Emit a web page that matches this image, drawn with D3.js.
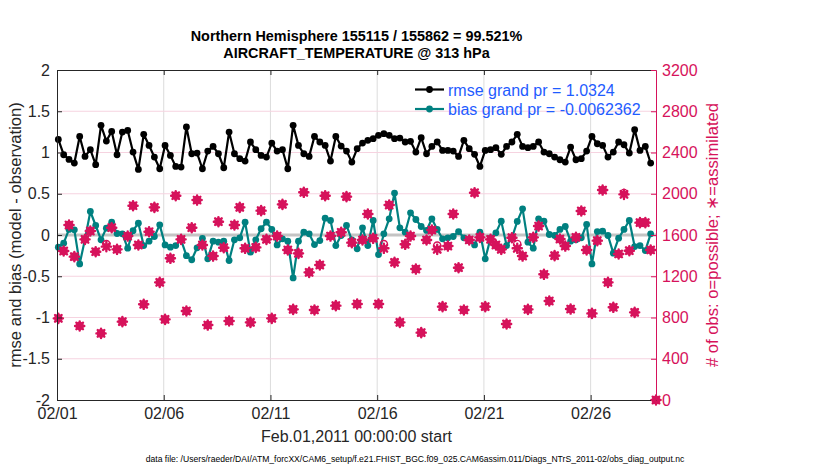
<!doctype html>
<html lang="en">
<head>
	<meta charset="utf-8">
	<title>obs_diag evolution</title>
	<style>
		body { margin: 0; background: #fff; }
		text { font-family: "Liberation Sans", Arial, Helvetica, sans-serif; }
	</style>
</head>
<body>
	<div id="output"></div>

	<script src="https://d3js.org/d3.v7.min.js"></script>

	<script>
		// 6-hourly bins, Feb 2011 (day offsets from 02/01 00:00)
		var rmse = [1.159, 0.973, 0.916, 0.872, 1.195, 0.953, 1.034, 0.852, 1.329, 1.139,
			1.256, 0.973, 1.248, 1.268, 1.005, 0.795, 1.220, 1.086, 0.945, 0.803,
			1.086, 0.965, 0.831, 0.823, 1.309, 0.985, 0.993, 0.803, 1.017, 1.074,
			0.985, 0.815, 1.248, 0.985, 0.925, 0.896, 1.127, 1.034, 0.965, 0.945,
			1.114, 1.017, 1.034, 0.803, 1.329, 1.086, 0.985, 0.953, 1.195, 1.127,
			1.086, 0.896, 1.195, 1.078, 1.017, 0.884, 1.046, 1.114, 1.147, 1.167,
			1.208, 1.228, 1.208, 1.167, 1.175, 1.127, 1.135, 1.005, 1.180, 0.985,
			1.074, 1.127, 1.025, 1.025, 1.017, 0.953, 1.147, 1.046, 0.978, 0.831,
			1.025, 1.034, 1.058, 0.978, 1.074, 1.127, 1.220, 1.074, 1.058, 1.074,
			1.127, 1.005, 0.985, 0.944, 0.912, 0.884, 1.066, 0.912, 0.925, 1.017,
			1.195, 1.106, 1.086, 0.944, 1.005, 1.127, 1.094, 0.993, 1.277, 1.025,
			1.074, 0.872, null];

		var bias = [-0.148, -0.099, 0.067, 0.063, -0.350, -0.050, 0.285, 0.115, -0.058, 0.083,
			0.155, 0.018, 0.014, -0.160, 0.052, 0.143, -0.128, -0.075, -0.018, 0.123,
			-0.120, -0.148, -0.128, -0.058, -0.250, -0.300, -0.155, -0.040, -0.289, -0.075,
			-0.087, -0.075, -0.309, -0.058, -0.034, 0.155, -0.208, -0.058, 0.076, 0.155,
			0.067, -0.120, -0.046, -0.075, -0.520, -0.075, 0.034, 0.014, -0.116, -0.067,
			0.204, 0.176, -0.128, -0.006, 0.115, -0.058, -0.168, 0.087, -0.128, 0.176,
			-0.237, 0.014, 0.196, 0.508, 0.087, 0.034, 0.269, 0.188, 0.103, 0.055,
			0.196, 0.067, -0.046, -0.034, -0.018, 0.042, -0.034, -0.067, -0.120, 0.034,
			-0.289, -0.038, 0.026, 0.168, -0.128, -0.034, 0.164, 0.317, -0.087, -0.160,
			0.196, 0.168, 0.006, -0.006, 0.067, 0.103, -0.075, -0.058, -0.034, 0.127,
			-0.350, 0.042, 0.046, -0.006, -0.220, -0.038, 0.067, 0.176, -0.140, -0.128,
			-0.189, 0.014, null];

		var nUsed = [792, 1445, 1697, 1390, 718, 1558, 1639, 1438, 646, 1487,
			1671, 1461, 760, 1590, 1884, 1503, 928, 1632, 1868, 1141,
			782, 1374, 1981, 1558, 863, 1671, 1939, 1503, 727, 1396,
			1729, 1477, 766, 1697, 1868, 1471, 753, 1480, 1836, 1558,
			792, 1590, 1897, 1455, 879, 1422, 2014, 1238, 873, 1309,
			1981, 1590, 915, 1626, 1972, 1526, 931, 1552, 1804, 1568,
			931, 1471, 1891, 1335, 753, 1510, 1590, 1270, 653, 1552,
			1648, 1461, 905, 1493, 1804, 1283, 873, 1552, 2010, 1577,
			905, 1558, 1503, 1461, 737, 1574, 1471, 1396, 879, 1577,
			1687, 1219, 960, 1400, 1561, 1493, 882, 1577, 1833, 1455,
			840, 1545, 2036, 1141, 899, 1416, 1994, 1448, 850, 1720,
			1720, 1455, 0];

		var nPoss = [792, 1445, 1697, 1390, 718, 1558, 1639, 1438, 646, 1512,
			1671, 1461, 760, 1590, 1884, 1503, 928, 1632, 1868, 1141,
			782, 1374, 1981, 1558, 863, 1671, 1939, 1503, 727, 1396,
			1729, 1477, 766, 1697, 1868, 1471, 753, 1480, 1836, 1558,
			792, 1590, 1897, 1455, 879, 1422, 2014, 1238, 873, 1309,
			1981, 1590, 915, 1626, 1972, 1526, 931, 1552, 1804, 1568,
			931, 1512, 1891, 1335, 753, 1510, 1590, 1270, 653, 1552,
			1648, 1497, 905, 1493, 1804, 1283, 873, 1552, 2010, 1577,
			905, 1558, 1503, 1461, 737, 1574, 1513, 1396, 879, 1577,
			1687, 1219, 960, 1400, 1561, 1493, 882, 1577, 1833, 1455,
			840, 1545, 2036, 1141, 899, 1416, 2008, 1448, 850, 1720,
			1720, 1455, 0];

		var tickDays = [0, 5, 10, 15, 20, 25];
		var tickLabels = ["02/01", "02/06", "02/11", "02/16", "02/21", "02/26"];
		var leftTicks = [2, 1.5, 1, 0.5, 0, -0.5, -1, -1.5, -2];
		var leftLabels = ["2", "1.5", "1", "0.5", "0", "-0.5", "-1", "-1.5", "-2"];
		var rightTicks = [0, 400, 800, 1200, 1600, 2000, 2400, 2800, 3200];

		var W = 830, H = 470;
		var mL = 57, mR = 656, mT = 70, mB = 400;
		var red = "#d6125b", teal = "#008080", blue = "#1f5cff";

		var days = nUsed.map(function (d, i) { return 0.0625 + 0.25 * i; });

		var x = d3.scaleLinear().domain([0, 28.0625]).range([mL, mR]);
		var yL = d3.scaleLinear().domain([-2, 2]).range([mB, mT]);
		var yR = d3.scaleLinear().domain([0, 3200]).range([mB, mT]);

		var svg = d3.select("#output").append("svg")
			.attr("width", W)
			.attr("height", H);

		// grid
		svg.append("g").selectAll("line")
			.data(tickDays.slice(1))
			.enter().append("line")
			.attr("x1", function (d) { return x(d); })
			.attr("x2", function (d) { return x(d); })
			.attr("y1", mT).attr("y2", mB)
			.attr("stroke", "#dcdcdc").attr("stroke-width", 1);

		svg.append("g").selectAll("line")
			.data(rightTicks.slice(1, -1))
			.enter().append("line")
			.attr("x1", mL).attr("x2", mR)
			.attr("y1", function (d) { return yR(d); })
			.attr("y2", function (d) { return yR(d); })
			.attr("stroke", "#f6d3e0").attr("stroke-width", 1);

		// zero line
		svg.append("line")
			.attr("x1", mL).attr("x2", mR)
			.attr("y1", yL(0)).attr("y2", yL(0))
			.attr("stroke", "#c4c4c4").attr("stroke-width", 3);

		// rmse and bias
		var series = [
			{ name: "rmse grand pr = 1.0324", vals: rmse, color: "#000" },
			{ name: "bias grand pr = -0.0062362", vals: bias, color: teal }
		];

		series.slice().reverse().forEach(function (s) {
			var pts = s.vals.map(function (v, i) { return [days[i], v]; })
				.filter(function (p) { return p[1] !== null; });

			svg.append("path")
				.datum(pts)
				.attr("fill", "none")
				.attr("stroke", s.color)
				.attr("stroke-width", 2.2)
				.attr("stroke-linejoin", "round")
				.attr("d", d3.line()
					.x(function (p) { return x(p[0]); })
					.y(function (p) { return yL(p[1]); }));

			svg.append("g").selectAll("circle")
				.data(pts)
				.enter().append("circle")
				.attr("cx", function (p) { return x(p[0]); })
				.attr("cy", function (p) { return yL(p[1]); })
				.attr("r", 3.4)
				.attr("fill", s.color);
		});

		// obs counts: o = possible, * = assimilated
		svg.append("g").selectAll("circle")
			.data(nPoss)
			.enter().append("circle")
			.attr("cx", function (d, i) { return x(days[i]); })
			.attr("cy", function (d) { return yR(d); })
			.attr("r", 3.6)
			.attr("fill", "none")
			.attr("stroke", red)
			.attr("stroke-width", 1.4);

		var star = "M-4.6,0L4.6,0M0,-4.6L0,4.6M-3.3,-3.3L3.3,3.3M-3.3,3.3L3.3,-3.3";
		svg.append("g").selectAll("path")
			.data(nUsed)
			.enter().append("path")
			.attr("transform", function (d, i) { return "translate(" + x(days[i]) + "," + yR(d) + ")"; })
			.attr("d", star)
			.attr("stroke", red)
			.attr("stroke-width", 2.4)
			.attr("stroke-linecap", "round");

		// axes
		var xAxis = d3.axisBottom(x).tickValues(tickDays)
			.tickFormat(function (d, i) { return tickLabels[i]; })
			.tickSize(-5).tickSizeOuter(0).tickPadding(8);
		var gx = svg.append("g").attr("transform", "translate(0," + mB + ")").call(xAxis);

		var gt = svg.append("g").attr("transform", "translate(0," + mT + ")")
			.call(d3.axisTop(x).tickValues(tickDays).tickFormat("").tickSize(-5).tickSizeOuter(0));

		var gl = svg.append("g").attr("transform", "translate(" + mL + ",0)")
			.call(d3.axisLeft(yL).tickValues(leftTicks)
				.tickFormat(function (d, i) { return leftLabels[i]; })
				.tickSize(-5).tickSizeOuter(0).tickPadding(7));

		var gr = svg.append("g").attr("transform", "translate(" + mR + ",0)")
			.call(d3.axisRight(yR).tickValues(rightTicks)
				.tickFormat(d3.format("d"))
				.tickSize(-5).tickSizeOuter(0).tickPadding(6));

		[gx, gt, gl].forEach(function (g) {
			g.selectAll("path, line").attr("stroke", "#262626");
			g.selectAll("text").attr("font-size", 16).attr("fill", "#262626")
				.style("font-family", "'Liberation Sans', Arial, sans-serif");
		});
		gr.selectAll("path, line").attr("stroke", red);
		gr.selectAll("text").attr("font-size", 16).attr("fill", red)
			.style("font-family", "'Liberation Sans', Arial, sans-serif");
		gr.raise();

		// legend
		var leg = svg.append("g");
		series.forEach(function (s, i) {
			var ly = 89.5 + i * 19.5;
			leg.append("line")
				.attr("x1", 415).attr("x2", 444)
				.attr("y1", ly).attr("y2", ly)
				.attr("stroke", s.color).attr("stroke-width", 2.2);
			leg.append("circle")
				.attr("cx", 429.5).attr("cy", ly).attr("r", 3.4)
				.attr("fill", s.color);
			leg.append("text")
				.attr("x", 448).attr("y", ly + 6)
				.attr("font-size", 16)
				.attr("fill", blue)
				.text(s.name);
		});

		// titles and labels
		var cx = (mL + mR) / 2;
		svg.append("text")
			.attr("x", cx).attr("y", 41)
			.attr("text-anchor", "middle")
			.attr("font-size", 14.4).attr("font-weight", "bold")
			.text("Northern Hemisphere 155115 / 155862 = 99.521%");
		svg.append("text")
			.attr("x", cx).attr("y", 58)
			.attr("text-anchor", "middle")
			.attr("font-size", 14.4).attr("font-weight", "bold")
			.text("AIRCRAFT_TEMPERATURE @ 313 hPa");

		svg.append("text")
			.attr("x", cx).attr("y", 442)
			.attr("text-anchor", "middle")
			.attr("font-size", 16).attr("fill", "#262626")
			.text("Feb.01,2011 00:00:00 start");

		svg.append("text")
			.attr("transform", "translate(21," + yL(0) + ") rotate(-90)")
			.attr("text-anchor", "middle")
			.attr("font-size", 16.6).attr("fill", "#262626")
			.text("rmse and bias (model - observation)");

		svg.append("text")
			.attr("transform", "translate(718," + yL(0) + ") rotate(-90)")
			.attr("text-anchor", "middle")
			.attr("font-size", 16.6).attr("fill", red)
			.text("# of obs: o=possible; \u2217=assimilated");

		svg.append("text")
			.attr("x", W / 2).attr("y", 462)
			.attr("text-anchor", "middle")
			.attr("font-size", 8.6)
			.text("data file: /Users/raeder/DAI/ATM_forcXX/CAM6_setup/f.e21.FHIST_BGC.f09_025.CAM6assim.011/Diags_NTrS_2011-02/obs_diag_output.nc");
	</script>
</body>
</html>
